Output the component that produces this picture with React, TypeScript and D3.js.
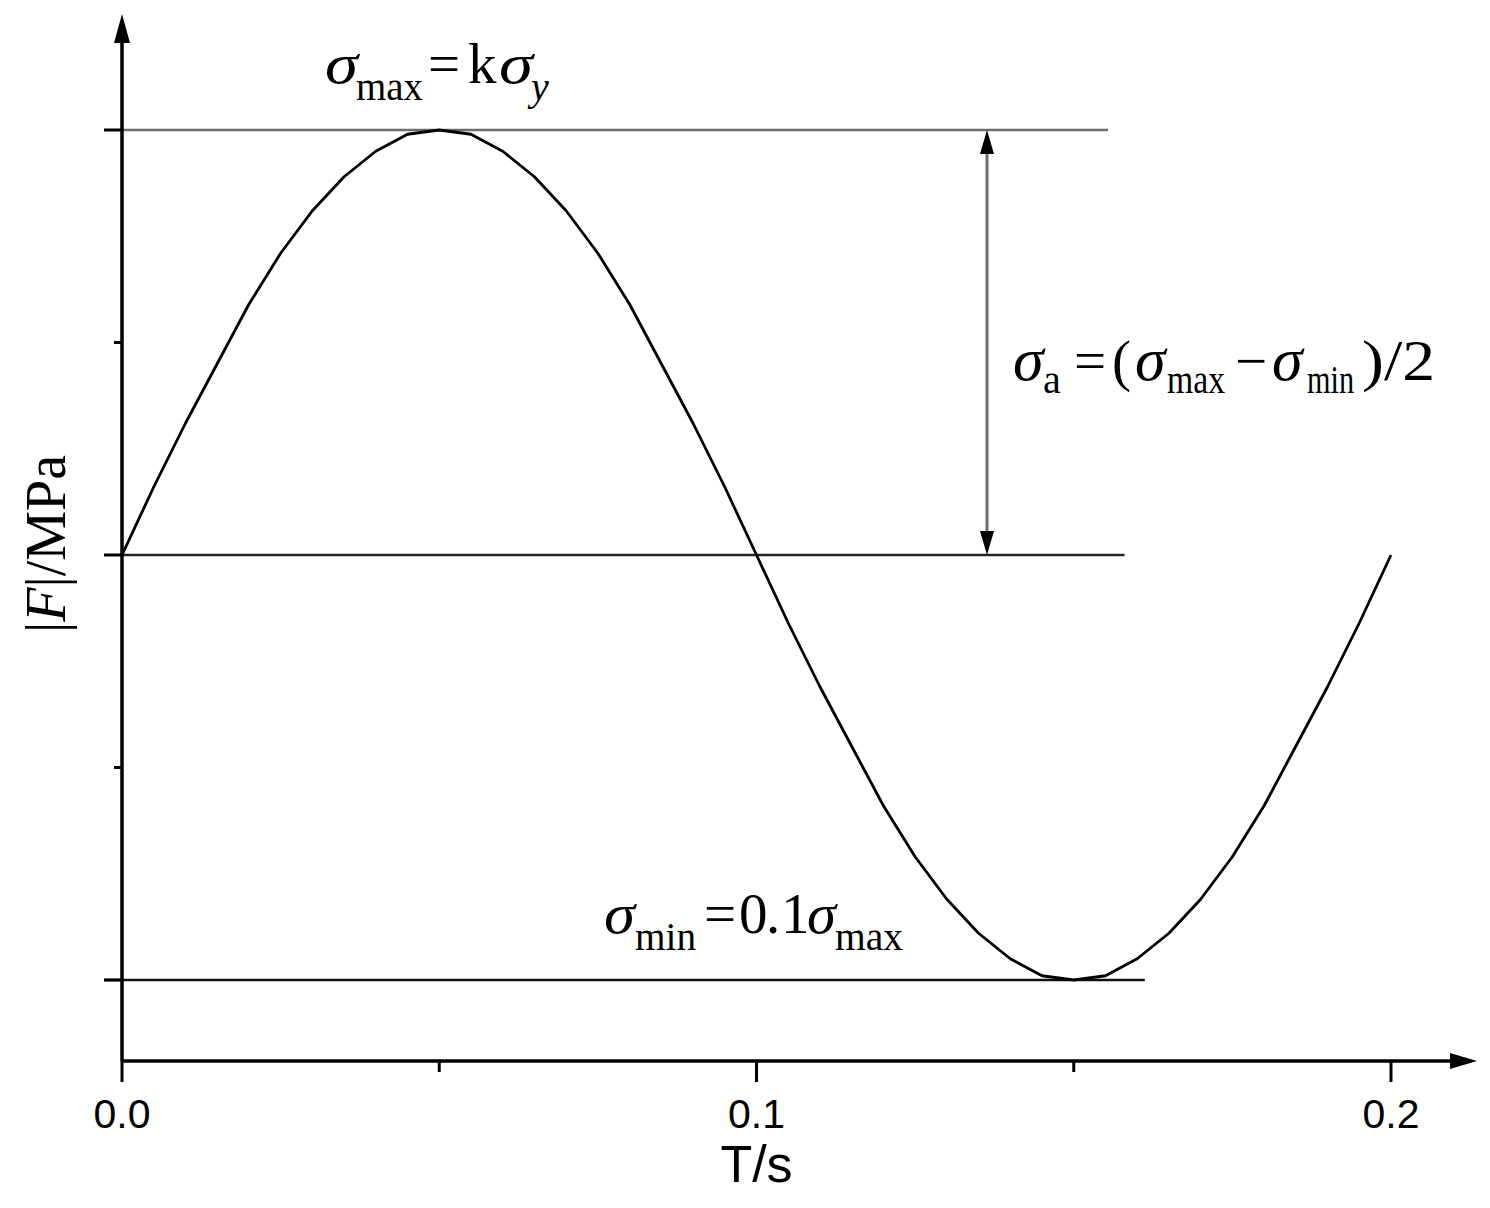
import React from "react";
import * as d3 from "d3";

const times = [0,0.005,0.01,0.015,0.02,0.025,0.03,0.035,0.04,0.045,0.05,0.055,0.06,0.065,0.07,0.075,0.08,0.085,0.09,0.095,0.1,0.105,0.11,0.115,0.12,0.125,0.13,0.135,0.14,0.145,0.15,0.155,0.16,0.165,0.17,0.175,0.18,0.185,0.19,0.195,0.2];
const stress = [0,0.16,0.31,0.45,0.59,0.71,0.81,0.89,0.95,0.99,1.0,0.99,0.95,0.89,0.81,0.71,0.59,0.45,0.31,0.16,0,-0.16,-0.31,-0.45,-0.59,-0.71,-0.81,-0.89,-0.95,-0.99,-1.0,-0.99,-0.95,-0.89,-0.81,-0.71,-0.59,-0.45,-0.31,-0.16,0];
const xMajorTicks = [0, 0.1, 0.2];
const xMinorTicks = [0.05, 0.15];
const xTickLabels = ["0.0", "0.1", "0.2"];
const yMajorTicks = [-1, 0, 1];
const yMinorTicks = [-0.5, 0.5];
const refLevels = [
  { v: 1, t0: 0, t1: 0.1554, color: "#6e6e6e" },
  { v: 0, t0: 0, t1: 0.158, color: "#222" },
  { v: -1, t0: -0.0027, t1: 0.1612, color: "#111" },
];

const W = 1490, H = 1208;
const x = d3.scaleLinear().domain([0, 0.2]).range([122, 1391]);
const y = d3.scaleLinear().domain([-1, 1]).range([980, 130]);
const yBottom = 1061;
const xEnd = 1477;
const yTop = 14;

const serif = "'Liberation Serif', 'Times New Roman', serif";
const sans = "'Liberation Sans', Arial, sans-serif";

type Piece = { s: string; x: number; sub?: boolean; it?: boolean; w?: number; fs?: number };

const topEq: Piece[] = [
  { s: "σ", x: 325, it: true, w: 33 },
  { s: "max", x: 356, sub: true, w: 67 },
  { s: "=", x: 428 },
  { s: "k", x: 468 },
  { s: "σ", x: 499, it: true, w: 34 },
  { s: "y", x: 531, sub: true, it: true },
];
const rightEq: Piece[] = [
  { s: "σ", x: 1013, it: true, fs: 62 },
  { s: "a", x: 1043, sub: true },
  { s: "=", x: 1074 },
  { s: "(", x: 1112 },
  { s: "σ", x: 1135, it: true, fs: 62 },
  { s: "max", x: 1167, sub: true, w: 58 },
  { s: "−", x: 1235 },
  { s: "σ", x: 1272, it: true, fs: 62 },
  { s: "min", x: 1307, sub: true, w: 47 },
  { s: ")/2", x: 1362, w: 73 },
];
const bottomEq: Piece[] = [
  { s: "σ", x: 604, it: true, w: 31 },
  { s: "min", x: 635, sub: true, w: 61 },
  { s: "=", x: 704 },
  { s: "0", x: 739 },
  { s: ".", x: 766 },
  { s: "1", x: 781 },
  { s: "σ", x: 807, it: true, w: 29 },
  { s: "max", x: 835, sub: true, w: 68 },
];

function Eq({ pieces, base, subBase }: { pieces: Piece[]; base: number; subBase: number }) {
  return (
    <g fontFamily={serif} fill="#000">
      {pieces.map((p, i) => (
        <text
          key={i}
          x={p.x}
          y={p.sub ? subBase : base}
          fontSize={p.fs ?? (p.sub ? 40 : 57)}
          fontStyle={p.it ? "italic" : "normal"}
          textLength={p.w}
          lengthAdjust={p.w ? "spacingAndGlyphs" : undefined}
        >
          {p.s}
        </text>
      ))}
    </g>
  );
}

export default function App() {
  const line = d3.line<number>().x((_, i) => x(times[i])).y((d) => y(d));
  const path = line(stress) || "";
  const ax = x(0);
  const arrowX = 987;
  return (
    <svg width={W} height={H} style={{ position: "absolute", left: 0, top: 0, background: "#fff" }}>
      {refLevels.map((r, i) => (
        <line key={i} x1={x(r.t0)} x2={x(r.t1)} y1={y(r.v)} y2={y(r.v)} stroke={r.color} strokeWidth={2.5} />
      ))}
      <line x1={ax} x2={ax} y1={yBottom} y2={yTop + 20} stroke="#000" strokeWidth={3.5} />
      <path d={`M${ax},${yTop} L${ax - 8},${yTop + 29} L${ax + 8},${yTop + 29} Z`} fill="#000" />
      <line x1={ax} x2={xEnd - 20} y1={yBottom} y2={yBottom} stroke="#000" strokeWidth={3.5} />
      <path d={`M${xEnd},${yBottom} L${xEnd - 27},${yBottom - 8} L${xEnd - 27},${yBottom + 8} Z`} fill="#000" />
      {xMajorTicks.map((t, i) => (
        <g key={i}>
          <line x1={x(t)} x2={x(t)} y1={yBottom} y2={yBottom + 21} stroke="#000" strokeWidth={3} />
          <text x={x(t)} y={1128} textAnchor="middle" fontFamily={sans} fontSize={41} fill="#000">{xTickLabels[i]}</text>
        </g>
      ))}
      {xMinorTicks.map((t, i) => (
        <line key={i} x1={x(t)} x2={x(t)} y1={yBottom} y2={yBottom + 11} stroke="#000" strokeWidth={3} />
      ))}
      {yMajorTicks.map((v, i) => (
        <line key={i} x1={ax - 18} x2={ax} y1={y(v)} y2={y(v)} stroke="#000" strokeWidth={3} />
      ))}
      {yMinorTicks.map((v, i) => (
        <line key={i} x1={ax - 8} x2={ax} y1={y(v)} y2={y(v)} stroke="#000" strokeWidth={3} />
      ))}
      <text x={x(0.1)} y={1182} textAnchor="middle" fontFamily={sans} fontSize={52} fill="#000">T/s</text>
      <path d={path} fill="none" stroke="#000" strokeWidth={2.8} strokeLinejoin="round" />
      <line x1={arrowX} x2={arrowX} y1={y(1) + 20} y2={y(0) - 20} stroke="#6e6e6e" strokeWidth={3} />
      <path d={`M${arrowX},${y(1)} L${arrowX - 7},${y(1) + 24} L${arrowX + 7},${y(1) + 24} Z`} fill="#000" />
      <path d={`M${arrowX},${y(0)} L${arrowX - 7},${y(0) - 24} L${arrowX + 7},${y(0) - 24} Z`} fill="#000" />
      <text transform="translate(65,544) rotate(-90)" textAnchor="middle" fontFamily={serif} fontSize={56} fill="#000">
        |<tspan fontStyle="italic">F</tspan>|/MPa
      </text>
      <Eq pieces={topEq} base={83} subBase={100} />
      <Eq pieces={rightEq} base={380} subBase={393} />
      <Eq pieces={bottomEq} base={933} subBase={950} />
    </svg>
  );
}
